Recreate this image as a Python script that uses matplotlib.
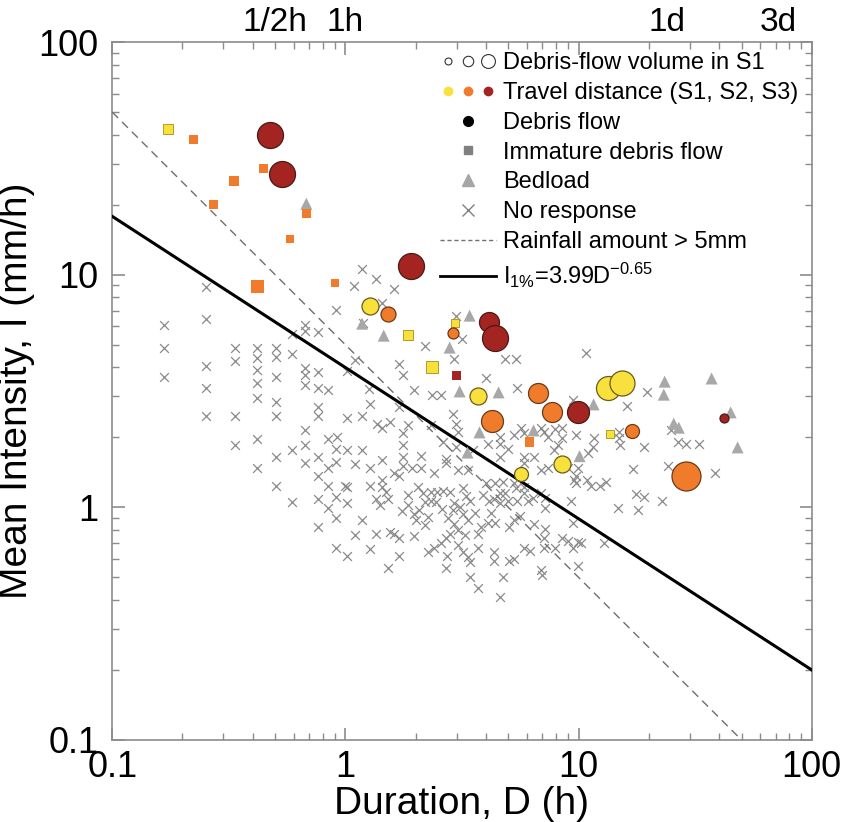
import matplotlib
matplotlib.use('Agg')
import matplotlib.pyplot as plt
import numpy as np
from matplotlib.lines import Line2D
from matplotlib.legend_handler import HandlerTuple
from matplotlib.ticker import FixedLocator, FixedFormatter, LogLocator, NullFormatter

plt.rcParams['font.family'] = ['Liberation Sans', 'DejaVu Sans']
plt.rcParams['mathtext.fontset'] = 'custom'
plt.rcParams['mathtext.rm'] = 'Liberation Sans'
plt.rcParams['mathtext.it'] = 'Liberation Sans'
plt.rcParams['mathtext.bf'] = 'Liberation Sans'

# ---------------- data ----------------
# Debris flow (circles): duration D (h), mean intensity I (mm/h), reach, volume class (marker diameter)
df_D = [0.477, 0.537, 1.92, 1.27, 1.53, 2.88, 4.11, 4.40, 3.69, 4.27, 6.67, 7.73, 9.9,
        5.64, 8.45, 13.4, 15.4, 16.9, 28.8, 41.9]
df_I = [39.9, 27.1, 10.9, 7.36, 6.8, 5.64, 6.28, 5.37, 3.02, 2.34, 3.09, 2.58, 2.56,
        1.39, 1.53, 3.27, 3.41, 2.12, 1.37, 2.41]
df_reach = ['S3', 'S3', 'S3', 'S1', 'S2', 'S2', 'S3', 'S3', 'S1', 'S2', 'S2', 'S2', 'S3',
            'S1', 'S1', 'S1', 'S1', 'S2', 'S2', 'S3']
df_vol = [26, 26, 26, 17, 15, 11, 20, 26, 17, 22, 20, 20, 22, 14, 17, 24, 25, 14, 29, 9]

# Immature debris flow (squares)
im_D = [0.174, 0.223, 0.334, 0.445, 0.271, 0.680, 0.581, 0.419, 0.906, 1.85, 2.94, 2.36,
        2.99, 6.16, 13.6]
im_I = [42.3, 38.0, 25.3, 28.5, 20.0, 18.3, 14.3, 8.88, 9.25, 5.53, 6.22, 4.03, 3.68,
        1.90, 2.06]
im_reach = ['S1', 'S2', 'S2', 'S2', 'S2', 'S2', 'S2', 'S2', 'S2', 'S1', 'S1', 'S1', 'S3',
            'S2', 'S1']
im_vol = [10, 9, 10, 9, 9, 9, 8, 13, 8, 10, 8, 12, 9, 10, 9]

# Bedload (triangles)
bl_D = [0.68, 1.18, 1.46, 3.41, 2.80, 3.09, 4.54, 3.76, 6.41, 11.6, 10.1, 3.34, 23.4,
        23.2, 37.2, 25.6, 26.9, 44.9, 48.1]
bl_I = [20.2, 6.16, 5.47, 6.67, 4.86, 3.15, 3.12, 2.10, 2.14, 2.77, 1.66, 1.72, 3.47,
        3.05, 3.58, 2.29, 2.20, 2.56, 1.81]

# No response (crosses)
no_response = [
    (0.167, 6.10), (0.167, 4.86), (0.167, 3.65), (0.253, 8.88), (0.253, 6.47), (0.253, 4.07),
    (0.253, 3.27), (0.253, 2.46), (0.337, 4.86), (0.337, 4.27), (0.337, 2.46), (0.337, 1.85),
    (0.419, 4.86), (0.419, 4.40), (0.419, 3.91), (0.419, 3.44), (0.419, 2.94), (0.419, 1.96),
    (0.419, 1.47), (0.506, 4.86), (0.506, 4.45), (0.506, 3.65), (0.506, 2.85), (0.506, 2.46),
    (0.506, 1.64), (0.506, 1.23), (0.592, 4.54), (0.592, 5.58), (0.592, 1.76), (0.592, 1.05),
    (0.674, 6.10), (0.674, 5.75), (0.674, 3.99), (0.674, 3.69), (0.674, 3.37), (0.674, 2.14),
    (0.674, 1.85), (0.674, 1.55), (0.766, 5.69), (0.766, 3.80), (0.766, 3.27), (0.766, 2.71),
    (0.766, 2.46), (0.766, 1.64), (0.766, 1.36), (0.766, 1.09), (0.766, 0.82), (0.846, 3.18),
    (0.846, 1.96), (0.846, 1.47), (0.846, 1.23), (0.846, 0.99), (0.915, 7.08), (0.915, 1.79),
    (0.915, 1.56), (0.915, 1.11), (0.915, 0.90), (0.915, 0.67), (0.924, 2.00),
    (1.00, 1.24), (1.02, 3.87), (1.02, 2.43), (1.02, 1.77), (1.02, 1.22), (1.02, 1.04),
    (1.02, 0.62), (1.09, 8.97), (1.10, 4.32), (1.10, 1.53), (1.10, 0.76), (1.18, 10.6),
    (1.18, 2.46), (1.18, 1.76), (1.18, 0.88), (1.19, 6.22), (1.26, 3.24), (1.27, 2.77),
    (1.27, 0.66), (1.28, 1.47), (1.28, 1.23), (1.35, 9.61), (1.35, 1.09), (1.35, 0.77),
    (1.37, 2.29), (1.41, 1.02), (1.44, 7.58), (1.44, 2.20), (1.44, 1.59), (1.44, 1.31),
    (1.44, 1.22), (1.49, 1.16), (1.53, 1.09), (1.53, 0.55), (1.56, 2.32), (1.56, 0.78),
    (1.61, 8.71), (1.61, 1.41), (1.61, 0.77), (1.69, 4.15), (1.69, 2.71), (1.69, 1.36),
    (1.69, 0.74), (1.69, 0.62), (1.76, 2.08), (1.77, 3.72), (1.77, 1.85), (1.77, 1.64),
    (1.77, 1.51), (1.86, 2.25), (1.86, 1.13), (1.86, 1.02), (1.94, 1.48), (1.96, 3.21),
    (1.96, 0.94), (1.96, 0.75), (2.04, 1.22), (2.06, 0.97), (2.10, 1.67), (2.10, 1.48),
    (2.16, 1.15), (2.20, 4.96), (2.20, 1.05), (2.25, 0.91), (2.27, 0.64), (2.32, 2.27),
    (2.32, 1.16), (2.32, 1.07), (2.36, 3.05), (2.56, 3.05), (2.39, 1.40), (2.39, 0.67),
    (2.48, 1.16), (2.56, 0.70), (2.63, 1.90), (2.63, 1.18), (2.69, 1.62), (2.69, 1.55),
    (2.69, 0.74), (2.69, 0.55), (2.74, 0.62), (2.82, 1.16), (2.82, 0.77), (2.88, 2.53),
    (2.88, 0.97), (2.91, 1.04), (2.91, 0.85), (2.91, 4.36), (2.97, 6.67), (2.97, 2.29),
    (2.97, 1.81), (3.03, 2.10), (3.03, 0.80), (3.03, 0.69), (3.05, 1.44), (3.15, 5.31),
    (3.18, 1.21), (3.18, 0.94), (3.18, 0.64), (3.27, 0.76), (3.34, 1.44), (3.34, 0.88),
    (3.34, 0.61), (3.44, 1.07), (3.44, 0.58), (3.44, 0.50), (3.54, 1.76), (3.69, 0.77),
    (3.69, 0.67), (3.72, 0.45), (3.91, 1.13), (3.99, 3.58), (3.99, 1.27), (4.07, 1.88),
    (4.07, 0.86), (4.11, 1.07), (4.32, 1.09), (4.32, 0.64), (4.32, 0.59), (4.40, 1.27),
    (4.40, 0.86), (4.62, 2.00), (4.62, 1.88), (4.62, 1.64), (4.62, 1.15), (4.62, 1.04),
    (4.62, 0.41), (4.76, 1.28), (4.76, 0.50), (4.86, 4.36), (4.86, 1.15), (4.96, 1.79),
    (4.96, 1.07), (5.01, 0.82), (5.01, 0.59), (5.26, 2.04), (5.26, 1.27), (5.26, 0.88),
    (5.26, 0.60), (5.37, 4.36), (5.37, 1.21), (5.47, 3.27), (5.47, 1.07), (5.64, 2.20),
    (5.81, 2.08), (5.81, 1.64), (5.81, 1.55), (5.81, 1.22), (5.81, 1.15), (5.81, 0.67),
    (6.04, 1.07), (6.22, 0.65), (6.35, 1.10), (6.41, 1.64), (6.41, 0.85), (6.87, 2.20),
    (6.87, 1.44), (6.87, 1.15), (6.87, 0.54), (7.00, 0.51), (7.08, 2.10), (7.08, 0.74),
    (7.08, 0.67), (7.21, 1.10), (7.21, 0.99), (7.21, 0.81), (7.36, 2.00), (7.36, 1.47),
    (7.81, 1.76), (7.96, 2.18), (7.96, 0.67), (8.20, 1.85), (8.53, 2.20), (8.53, 1.98),
    (8.53, 0.74), (8.97, 1.48), (8.97, 0.72), (9.24, 1.07), (9.43, 2.88), (9.43, 0.86),
    (9.43, 0.67), (9.52, 1.31), (9.71, 2.04), (9.71, 1.37), (9.71, 1.27), (9.90, 1.48),
    (9.90, 0.71), (9.90, 0.56), (10.2, 0.70), (10.8, 4.62), (10.9, 1.31), (11.0, 1.71),
    (11.5, 1.81), (11.6, 1.98), (11.3, 1.24), (12.4, 1.24), (12.8, 0.70), (13.1, 1.28),
    (14.7, 0.99), (14.9, 2.10), (14.9, 1.98), (15.1, 1.85), (16.2, 2.74), (17.2, 1.46),
    (17.6, 1.14), (17.9, 0.97), (19.0, 1.81), (19.0, 1.11), (19.6, 3.12), (22.9, 1.06),
    (24.3, 1.51), (24.8, 2.14), (26.6, 1.90), (28.8, 1.88), (32.7, 1.88), (38.3, 1.40),
    (2.45, 1.05), (2.60, 0.98), (2.75, 0.90), (3.10, 1.00), (3.60, 0.95), (3.80, 0.82),
    (4.20, 0.95), (2.20, 0.84), (2.00, 0.88), (1.75, 0.96), (3.30, 1.12), (5.60, 0.92),
]

# Thresholds
thr_a, thr_b = 3.99, -0.65          # I1% = 3.99 D^-0.65
rain_amount = 5.0                   # I * D = 5 mm

x_ticks = [0.1, 1, 10, 100]
x_ticklabels = ['0.1', '1', '10', '100']
y_ticks = [0.1, 1, 10, 100]
y_ticklabels = ['0.1', '1', '10', '100']
top_ticks = [0.5, 1, 24, 72]
top_labels = ['1/2h', '1h', '1d', '3d']

reach_color = {'S1': '#F8E13C', 'S2': '#EF7B2B', 'S3': '#A32420'}
reach_edge = {'S1': '#6b5a1c', 'S2': '#6b3a1c', 'S3': '#4a1a14'}

# ---------------- figure ----------------
fig = plt.figure(figsize=(8.5, 8.22), dpi=100)
ax = fig.add_axes([0.132, 0.0998, 0.823, 0.849])
ax.set_xscale('log')
ax.set_yscale('log')
ax.set_xlim(0.1, 100)
ax.set_ylim(0.1, 100)

nrD = [p[0] for p in no_response]
nrI = [p[1] for p in no_response]
ax.scatter(nrD, nrI, marker='x', s=40, c='#8a8a8a', linewidths=0.9, zorder=2)

# thresholds
Dl = np.logspace(-1, 2, 200)
ax.plot(Dl, rain_amount / Dl, ls=(0, (6, 4)), color='#6e6e6e', lw=1.0, zorder=3)
ax.plot(Dl, thr_a * Dl ** thr_b, color='black', lw=2.2, zorder=3)

# bedload
ax.scatter(bl_D, bl_I, marker='^', s=75, c='#A8A8A8', edgecolors='none', zorder=4)

# immature debris flows
for d, i, r, v in zip(im_D, im_I, im_reach, im_vol):
    ec = '#b39a2a' if r == 'S1' else 'none'
    ax.scatter([d], [i], marker='s', s=(v / 1.389) ** 2, c=reach_color[r],
               edgecolors=ec, linewidths=0.7, zorder=5)

# debris flows
for d, i, r, v in zip(df_D, df_I, df_reach, df_vol):
    ax.scatter([d], [i], marker='o', s=(v / 1.389) ** 2, c=reach_color[r],
               edgecolors=reach_edge[r], linewidths=0.9, zorder=6)

# axes styling
for sp in ax.spines.values():
    sp.set_color('#8c8c8c')
    sp.set_linewidth(1.2)
ax.xaxis.set_major_locator(FixedLocator(x_ticks))
ax.xaxis.set_major_formatter(FixedFormatter(x_ticklabels))
ax.yaxis.set_major_locator(FixedLocator(y_ticks))
ax.yaxis.set_major_formatter(FixedFormatter(y_ticklabels))
ax.xaxis.set_minor_locator(LogLocator(base=10, subs=np.arange(2, 10)))
ax.yaxis.set_minor_locator(LogLocator(base=10, subs=np.arange(2, 10)))
ax.xaxis.set_minor_formatter(NullFormatter())
ax.yaxis.set_minor_formatter(NullFormatter())
ax.tick_params(which='both', direction='in', top=True, right=True, color='#8c8c8c',
               labelsize=26)
ax.tick_params(axis='x', which='major', pad=7)
ax.tick_params(axis='y', which='major', pad=10)
ax.tick_params(which='major', length=9, width=1.2)
ax.tick_params(which='minor', length=5, width=1.0)

top = ax.secondary_xaxis('top')
top.set_xticks(top_ticks)
top.set_xticklabels(top_labels)
top.tick_params(length=0, labelsize=24, pad=3)
top.xaxis.set_minor_locator(FixedLocator([]))
top.spines['top'].set_visible(False)

ax.set_xlabel('Duration, D (h)', fontsize=28, labelpad=1)
ax.set_ylabel('Mean Intensity, I (mm/h)', fontsize=28, labelpad=2)

# legend
vol_h = tuple(Line2D([], [], ls='none', marker='o', mfc='white', mec='#333333', mew=0.8, ms=s)
              for s in (5, 7.5, 10))
trav_h = tuple(Line2D([], [], ls='none', marker='o', mfc=reach_color[k], mec='none', ms=7)
               for k in ('S1', 'S2', 'S3'))
h_df = Line2D([], [], ls='none', marker='o', color='black', ms=7)
h_im = Line2D([], [], ls='none', marker='s', color='#808080', ms=6)
h_bl = Line2D([], [], ls='none', marker='^', color='#A6A6A6', ms=8)
h_nr = Line2D([], [], ls='none', marker='x', color='#808080', ms=8, mew=1)
h_rain = Line2D([], [], ls=(0, (3, 2)), color='#707070', lw=1)
h_thr = Line2D([], [], ls='-', color='black', lw=2)
handles = [vol_h, trav_h, h_df, h_im, h_bl, h_nr, h_rain, h_thr]
labels = ['Debris-flow volume in S1', 'Travel distance (S1, S2, S3)', 'Debris flow',
          'Immature debris flow', 'Bedload', 'No response', 'Rainfall amount > 5mm',
          r'$\mathregular{I_{1\%}}$=3.99D$\mathregular{^{-0.65}}$']
leg = ax.legend(handles, labels, handler_map={tuple: HandlerTuple(ndivide=None, pad=0.15)},
                loc='upper right', bbox_to_anchor=(1.005, 1.009), frameon=False, fontsize=17,
                handlelength=2.4, handletextpad=0.3, labelspacing=0.33, borderaxespad=0.3)
leg.set_zorder(10)

fig.savefig('out.png', dpi=100, facecolor='white')
